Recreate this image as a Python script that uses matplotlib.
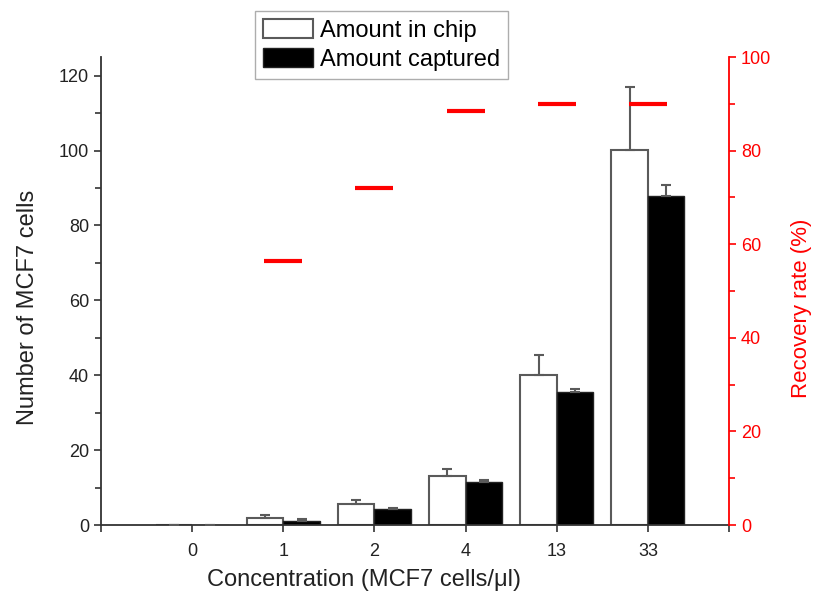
import matplotlib
matplotlib.use("Agg")
import matplotlib.pyplot as plt
import numpy as np
from matplotlib.ticker import MultipleLocator
from matplotlib.patches import Patch

plt.rcParams['font.family'] = ['Liberation Sans', 'DejaVu Sans']

categories = ['0', '1', '2', '4', '13', '33']
amount_chip = [0, 1.8, 5.6, 13.15, 40.1, 100.1]
chip_err = [0, 0.9, 1.0, 1.75, 5.2, 17.0]
amount_captured = [0, 1.15, 4.2, 11.6, 35.4, 88.0]
captured_err = [0, 0.45, 0.45, 0.5, 0.8, 2.9]
rate_x = ['1', '2', '4', '13', '33']
recovery_rate = [56.4, 72.0, 88.5, 89.9, 89.9]

W, H = 813, 596
fig = plt.figure(figsize=(W / 100, H / 100), dpi=100)
ax = fig.add_axes([101 / W, 1 - 525 / H, (729 - 101) / W, (525 - 57) / H])
ax2 = ax.twinx()

x = np.arange(len(categories))
bw = 0.4
gray = '#5a5a5a'
ax.bar(x - bw / 2, amount_chip, bw, color='white', edgecolor=gray, linewidth=1.5, zorder=2)
ax.bar(x + bw / 2, amount_captured, bw, color='black', edgecolor='#222222', linewidth=1.0, zorder=2)
ax.errorbar(x - bw / 2, amount_chip, yerr=[np.zeros(len(x)), chip_err], fmt='none',
            ecolor=gray, elinewidth=1.5, capsize=3.6, capthick=1.5, zorder=3)
ax.errorbar(x + bw / 2, amount_captured, yerr=[np.zeros(len(x)), captured_err], fmt='none',
            ecolor=gray, elinewidth=1.5, capsize=3.6, capthick=1.5, zorder=3)

rx = [categories.index(c) for c in rate_x]
ax2.plot(rx, recovery_rate, linestyle='none', marker='_', ms=28, mew=3, color='red', zorder=4)

ax.set_xlim(-1, 5.89)
ax.set_ylim(0, 125)
ax2.set_ylim(0, 100)

ax.set_xticks([-1] + list(x) + [5.89])
ax.set_xticklabels([''] + categories + [''])
ax.yaxis.set_major_locator(MultipleLocator(20))
ax.yaxis.set_minor_locator(MultipleLocator(10))
ax2.yaxis.set_major_locator(MultipleLocator(20))
ax2.yaxis.set_minor_locator(MultipleLocator(10))

dark = '#333333'
ax.spines['top'].set_visible(False)
ax2.spines['top'].set_visible(False)
for s in ['left', 'bottom']:
    ax.spines[s].set_color(dark)
    ax.spines[s].set_linewidth(1.3)
ax2.spines['left'].set_visible(False)
ax2.spines['bottom'].set_visible(False)
ax2.spines['right'].set_color('red')
ax2.spines['right'].set_linewidth(1.3)
ax.spines['right'].set_visible(False)

ax.tick_params(axis='both', which='major', direction='out', length=5, width=1.2,
               color=dark, labelsize=13, labelcolor='#222222')
ax.tick_params(axis='x', which='major', pad=8)
ax.tick_params(axis='y', which='minor', direction='out', length=4, width=1.2, color=dark)
ax2.tick_params(axis='y', which='major', direction='out', length=5, width=1.2,
                color='red', labelsize=13, labelcolor='red')
ax2.tick_params(axis='y', which='minor', direction='out', length=4, width=1.2, color='red')

ax.set_xlabel('Concentration (MCF7 cells/μl)', fontsize=17, color='#222222')
ax.xaxis.set_label_coords((364 - 101) / 628, -(580 - 525) / 468, transform=ax.transAxes)
ax.xaxis.label.set_va('center')
ax.set_ylabel('Number of MCF7 cells', fontsize=17, color='#222222')
ax.yaxis.set_label_coords(-(101 - 28) / 628, (525 - 307) / 468, transform=ax.transAxes)
ax.yaxis.label.set_va('center')
ax2.set_ylabel('Recovery rate (%)', fontsize=16, color='red')
ax2.yaxis.set_label_coords((801 - 101) / 628, (525 - 308) / 468, transform=ax2.transAxes)
ax2.yaxis.label.set_va('center')

handles = [Patch(facecolor='white', edgecolor=gray, linewidth=1.5, label='Amount in chip'),
           Patch(facecolor='black', edgecolor='#222222', linewidth=1.0, label='Amount captured')]
leg = fig.legend(handles=handles, loc='upper left', bbox_to_anchor=(255 / W, 1 - 11 / H),
                 fontsize=17, frameon=True, fancybox=False, edgecolor='#999999',
                 handlelength=2.1, handleheight=0.85, handletextpad=0.3,
                 borderpad=0.35, labelspacing=0.28, borderaxespad=0)
leg.get_frame().set_linewidth(1.0)

fig.savefig('out.png', dpi=100)
